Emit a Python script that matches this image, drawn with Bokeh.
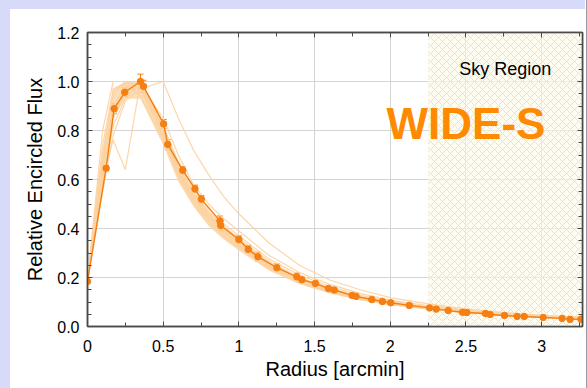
from bokeh.plotting import figure
from bokeh.models import (FixedTicker, LinearAxis, Whisker, ColumnDataSource,
                          BoxAnnotation, Label, Range1d, Spacer, CustomLabelingPolicy)
from bokeh.layouts import row, column
from bokeh.embed import file_html
from bokeh.resources import INLINE
import numpy as np

# ---------------- data ----------------
x_ticks = [0, 0.5, 1, 1.5, 2, 2.5, 3]
x_tick_labels = ["0", "0.5", "1", "1.5", "2", "2.5", "3"]
y_ticks = [0.0, 0.2, 0.4, 0.6, 0.8, 1.0, 1.2]
y_tick_labels = ["0.0", "0.2", "0.4", "0.6", "0.8", "1.0", "1.2"]

# main (stacked) profile with error bars
r_main = [0.0, 0.123, 0.176, 0.246, 0.35, 0.37, 0.503, 0.53, 0.629, 0.71, 0.752,
          0.875, 0.88, 1.0, 1.062, 1.126, 1.251, 1.383, 1.416, 1.506, 1.592, 1.63,
          1.748, 1.774, 1.878, 1.948, 2.003, 2.126, 2.26, 2.304, 2.383, 2.478,
          2.506, 2.629, 2.66, 2.755, 2.838, 2.885, 3.01, 3.135, 3.188, 3.26]
f_main = [0.184, 0.646, 0.889, 0.956, 1.0, 0.98, 0.827, 0.743, 0.638, 0.562, 0.52,
          0.431, 0.412, 0.355, 0.315, 0.285, 0.24, 0.203, 0.191, 0.176, 0.155, 0.149,
          0.127, 0.123, 0.11, 0.102, 0.097, 0.086, 0.076, 0.071, 0.065, 0.058,
          0.057, 0.053, 0.049, 0.045, 0.041, 0.041, 0.037, 0.033, 0.029, 0.03]
err_main = [0.004, 0.01, 0.02, 0.018, 0.03, 0.025, 0.018, 0.02, 0.015, 0.015, 0.015,
            0.02, 0.02, 0.015, 0.015, 0.018, 0.015, 0.015, 0.01, 0.008, 0.006, 0.005,
            0.004, 0.004, 0.004, 0.004, 0.004, 0.004, 0.004, 0.004, 0.004, 0.004,
            0.004, 0.004, 0.004, 0.004, 0.004, 0.004, 0.004, 0.004, 0.004, 0.004]

# individual profiles sampled on a common radius grid
r_grid = [0, 0.1, 0.17, 0.25, 0.35, 0.5, 0.6, 0.7, 0.8, 0.9, 1.0, 1.2, 1.4, 1.6,
          1.8, 2.0, 2.25, 2.5, 2.75, 3.0, 3.27]
profile_1 = [0.19, 0.80, 1.00, 1.00, 0.97, 0.78, 0.63, 0.52, 0.44, 0.38, 0.33, 0.245, 0.185, 0.145, 0.115, 0.093, 0.074, 0.058, 0.047, 0.038, 0.031]
profile_2 = [0.19, 0.55, 0.78, 0.92, 0.97, 1.00, 0.85, 0.72, 0.62, 0.53, 0.46, 0.34, 0.25, 0.19, 0.15, 0.118, 0.092, 0.072, 0.057, 0.046, 0.038]
profile_3 = [0.19, 0.62, 0.76, 0.64, 1.00, 0.80, 0.64, 0.53, 0.45, 0.39, 0.34, 0.25, 0.19, 0.15, 0.118, 0.095, 0.075, 0.059, 0.048, 0.039, 0.032]
profile_4 = [0.19, 0.70, 0.95, 1.00, 0.98, 0.77, 0.62, 0.51, 0.43, 0.37, 0.325, 0.24, 0.182, 0.142, 0.113, 0.092, 0.073, 0.058, 0.047, 0.038, 0.031]
profile_5 = [0.19, 0.66, 0.90, 0.98, 1.00, 0.80, 0.65, 0.54, 0.46, 0.40, 0.345, 0.255, 0.192, 0.15, 0.118, 0.096, 0.076, 0.06, 0.048, 0.039, 0.032]
profile_6 = [0.19, 0.60, 0.85, 0.95, 1.00, 0.82, 0.67, 0.56, 0.48, 0.42, 0.37, 0.275, 0.21, 0.163, 0.128, 0.103, 0.081, 0.064, 0.051, 0.041, 0.034]
profile_7 = [0.19, 0.58, 0.82, 0.93, 0.99, 0.85, 0.70, 0.58, 0.50, 0.44, 0.39, 0.29, 0.22, 0.172, 0.135, 0.108, 0.085, 0.067, 0.053, 0.043, 0.035]
profile_8 = [0.19, 0.74, 0.97, 0.99, 0.94, 0.76, 0.61, 0.50, 0.42, 0.365, 0.32, 0.235, 0.178, 0.14, 0.11, 0.09, 0.072, 0.057, 0.046, 0.037, 0.03]
profile_9 = [0.19, 0.68, 0.88, 0.96, 1.00, 0.78, 0.63, 0.52, 0.45, 0.39, 0.335, 0.248, 0.188, 0.146, 0.116, 0.094, 0.075, 0.059, 0.047, 0.038, 0.031]
profile_10 = [0.19, 0.63, 0.86, 0.97, 0.99, 0.81, 0.66, 0.55, 0.47, 0.41, 0.36, 0.265, 0.2, 0.156, 0.123, 0.099, 0.078, 0.062, 0.05, 0.04, 0.033]
profiles = [profile_1, profile_2, profile_3, profile_4, profile_5,
            profile_6, profile_7, profile_8, profile_9, profile_10]

band_lo = [0.17, 0.55, 0.85, 0.93, 0.93, 0.74, 0.59, 0.49, 0.41, 0.355, 0.31, 0.228, 0.172, 0.135, 0.107, 0.087, 0.068, 0.053, 0.043, 0.035, 0.028]
band_hi = [0.21, 0.72, 0.97, 1.00, 1.00, 0.82, 0.66, 0.55, 0.47, 0.405, 0.355, 0.262, 0.198, 0.155, 0.123, 0.10, 0.08, 0.064, 0.052, 0.042, 0.035]

sky_start = 2.25
x_max = 3.27

# ---------------- styling ----------------
FONT = "Liberation Sans"
ORANGE = "#f57f12"
LIGHT = "#fcd29e"
LAV = "#d8daf9"
AX = "#4a4a4a"

p = figure(frame_width=495, frame_height=294,
           x_range=Range1d(0, x_max), y_range=Range1d(0, 1.2),
           output_backend="svg", toolbar_location=None,
           min_border_left=77, min_border_top=23, min_border_bottom=62,
           min_border_right=3,
           background_fill_color="white", border_fill_color="white",
           outline_line_color=AX, outline_line_width=1.5)

x_minor = list(np.arange(0, 3.3, 0.25))
y_minor = list(np.arange(0, 1.21, 0.05))
xt = FixedTicker(ticks=x_ticks, minor_ticks=x_minor)
yt = FixedTicker(ticks=y_ticks, minor_ticks=y_minor)

for ax in (p.xaxis[0], p.yaxis[0]):
    ax.axis_line_color = AX
    ax.axis_line_width = 1.5
    ax.major_tick_line_color = AX
    ax.minor_tick_line_color = AX
    ax.major_tick_in = 5
    ax.major_tick_out = 0
    ax.minor_tick_in = 4
    ax.minor_tick_out = 0
    ax.major_label_text_font = FONT
    ax.major_label_text_font_size = "16px"
    ax.major_label_text_color = "black"
    ax.axis_label_text_font = FONT
    ax.axis_label_text_font_size = "20px"
    ax.axis_label_text_font_style = "normal"
    ax.axis_label_text_color = "black"

p.xaxis[0].ticker = xt
p.yaxis[0].ticker = yt
p.xaxis[0].major_label_overrides = {t: s for t, s in zip(x_ticks, x_tick_labels)}
p.yaxis[0].major_label_overrides = {t: s for t, s in zip(y_ticks, y_tick_labels)}
p.xaxis[0].axis_label = "Radius [arcmin]"
p.yaxis[0].axis_label = "Relative Encircled Flux"
p.xaxis[0].major_label_standoff = 13
p.yaxis[0].major_label_standoff = 8
p.xaxis[0].axis_label_standoff = 3
p.yaxis[0].axis_label_standoff = 8

no_labels = CustomLabelingPolicy(code="return new indices.constructor(indices.size, 0);")
for loc, tk in (("right", yt), ("above", xt)):
    a = LinearAxis(ticker=tk, axis_line_color=AX, axis_line_width=1.5,
                   major_tick_line_color=AX, minor_tick_line_color=AX,
                   major_tick_in=5, major_tick_out=0, minor_tick_in=4, minor_tick_out=0,
                   major_label_text_font_size="1px", major_label_standoff=0,
                   major_label_policy=no_labels, axis_label_standoff=0)
    p.add_layout(a, loc)

p.xgrid.ticker = FixedTicker(ticks=x_ticks)
p.ygrid.ticker = FixedTicker(ticks=y_ticks)
p.grid.grid_line_color = "#d4d4d4"
p.grid.grid_line_width = 1

# sky region
sky = BoxAnnotation(left=sky_start, right=x_max, fill_color="#fffbea", fill_alpha=0.6,
                    hatch_pattern="diagonal_cross", hatch_color="#eee0b0",
                    hatch_alpha=0.9, hatch_scale=8, hatch_weight=1,
                    line_alpha=0, level="underlay")
p.add_layout(sky)

# band and individual profiles
p.varea(x=r_grid, y1=band_lo, y2=band_hi, fill_color=LIGHT, fill_alpha=0.75)
p.multi_line(xs=[r_grid] * len(profiles), ys=profiles, line_color=LIGHT,
             line_width=1.2, line_alpha=0.9)

# main profile
src = ColumnDataSource(dict(r=r_main, f=f_main,
                            lo=[f - e for f, e in zip(f_main, err_main)],
                            hi=[f + e for f, e in zip(f_main, err_main)]))
p.line("r", "f", source=src, line_color=ORANGE, line_width=1.4)
wh = Whisker(base="r", upper="hi", lower="lo", source=src, line_color=ORANGE, line_width=1.2)
wh.upper_head.line_color = ORANGE
wh.lower_head.line_color = ORANGE
wh.upper_head.size = 6
wh.lower_head.size = 6
p.add_layout(wh)
p.scatter("r", "f", source=src, marker="circle", size=6.5,
          fill_color=ORANGE, line_color=ORANGE)

# labels
p.add_layout(Label(x=2.76, y=1.05, text="Sky Region", text_font=FONT,
                   text_font_size="18px", text_color="black",
                   text_align="center", text_baseline="middle"))
p.add_layout(Label(x=2.50, y=0.83, text="WIDE-S", text_font=FONT,
                   text_font_size="44px", text_font_style="bold",
                   text_color="#ff8a00", text_align="center",
                   text_baseline="middle"))

left = Spacer(width=10, height=388, styles={"background-color": LAV})
right = Spacer(width=2, height=388, styles={"background-color": LAV,
                                             "border-left": "1px solid #9a9aa8"})
top = Spacer(width=575, height=9, styles={"background-color": LAV})
layout = row(left, column(top, p), right)

open("out.html", "w").write(file_html(layout, INLINE))
